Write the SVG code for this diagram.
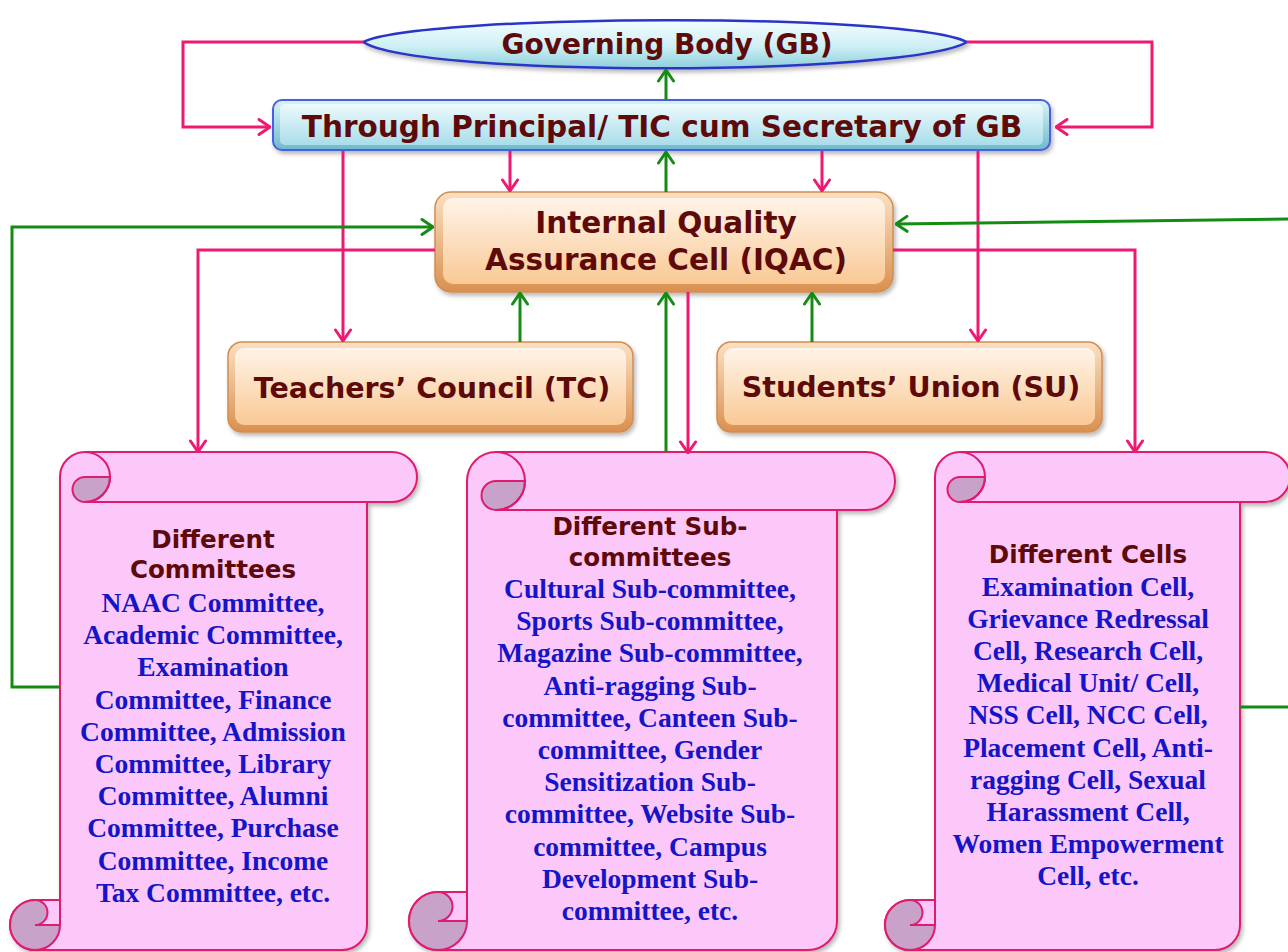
<svg xmlns="http://www.w3.org/2000/svg" width="1288" height="952" viewBox="0 0 1288 952">
<defs>
<style>
.t{font-family:"DejaVu Sans","Liberation Sans",sans-serif;font-weight:bold;fill:#5e0a0a;text-anchor:middle}
.st{font-family:"DejaVu Sans","Liberation Sans",sans-serif;font-weight:bold;fill:#5e0a0a;text-anchor:middle;font-size:24.6px}
.b{font-family:"Liberation Serif","DejaVu Serif",serif;font-weight:bold;fill:#1414c8;font-size:27.5px;text-anchor:middle}
.scroll{fill:#fcc8fa;stroke:#e01a6e;stroke-width:2}
.curl{fill:#c9a2c9;stroke:#e01a6e;stroke-width:2}
.ln{fill:none;stroke:#e01a6e;stroke-width:2}
.pk{fill:none;stroke:#ef1872;stroke-width:3}
.gr{fill:none;stroke:#148c14;stroke-width:3}
.po{fill:url(#gPeachEdge);stroke:#d18d52;stroke-width:1.5}
.pi{fill:url(#gPeach)}
</style>
<linearGradient id="gGB" x1="0" y1="0" x2="0" y2="1"><stop offset="0" stop-color="#f4fdff"/><stop offset="0.55" stop-color="#cdeff5"/><stop offset="1" stop-color="#8dcfdb"/></linearGradient>
<linearGradient id="gThrEdge" x1="0" y1="0" x2="0" y2="1"><stop offset="0" stop-color="#d9f4fa"/><stop offset="1" stop-color="#6fb9cc"/></linearGradient>
<linearGradient id="gThr" x1="0" y1="0" x2="0" y2="1"><stop offset="0" stop-color="#ecfafd"/><stop offset="1" stop-color="#a9dde9"/></linearGradient>
<linearGradient id="gPeachEdge" x1="0" y1="0" x2="0" y2="1"><stop offset="0" stop-color="#fbe0c2"/><stop offset="1" stop-color="#d99050"/></linearGradient>
<linearGradient id="gPeach" x1="0" y1="0" x2="0" y2="1"><stop offset="0" stop-color="#fff4e8"/><stop offset="1" stop-color="#f9c995"/></linearGradient>
<filter id="sh" x="-5%" y="-5%" width="115%" height="125%"><feDropShadow dx="2" dy="3" stdDeviation="2" flood-color="#000" flood-opacity="0.28"/></filter>
<marker id="ap" viewBox="0 0 14 18" refX="13" refY="9" markerWidth="14" markerHeight="18" markerUnits="userSpaceOnUse" orient="auto"><path d="M2 1.5 L13 9 L2 16.5" fill="none" stroke="#ef1872" stroke-width="3" stroke-linecap="round" stroke-linejoin="round"/></marker>
<marker id="ag" viewBox="0 0 14 18" refX="13" refY="9" markerWidth="14" markerHeight="18" markerUnits="userSpaceOnUse" orient="auto"><path d="M2 1.5 L13 9 L2 16.5" fill="none" stroke="#148c14" stroke-width="3" stroke-linecap="round" stroke-linejoin="round"/></marker>
</defs>
<rect width="1288" height="952" fill="#ffffff"/>

<g id="gb">
<path d="M363 42 C420 14 910 12 967 42 C910 76 420 78 363 42 Z" fill="url(#gGB)" stroke="#2936c8" stroke-width="2.5" filter="url(#sh)"/>
<text class="t" x="667" y="54" font-size="28">Governing Body (GB)</text>
</g>

<g id="principal">
<rect x="273" y="100" width="777" height="50" rx="9" fill="url(#gThrEdge)" stroke="#4a5ee0" stroke-width="2" filter="url(#sh)"/>
<rect x="280" y="104" width="763" height="41" rx="5" fill="url(#gThr)"/>
<text class="t" x="662" y="137" font-size="29.5">Through Principal/ TIC cum Secretary of GB</text>
</g>

<g id="iqac">
<rect class="po" x="435" y="192" width="458" height="100" rx="16" filter="url(#sh)"/>
<rect class="pi" x="443" y="198" width="442" height="86" rx="10"/>
<text class="t" x="666" y="233" font-size="29.5">Internal Quality</text>
<text class="t" x="666" y="270" font-size="29.5">Assurance Cell (IQAC)</text>
</g>

<g id="tc">
<rect class="po" x="228" y="342" width="405" height="90" rx="14" filter="url(#sh)"/>
<rect class="pi" x="235" y="348" width="391" height="77" rx="9"/>
<text class="t" x="432" y="398" font-size="28.5">Teachers’ Council (TC)</text>
</g>

<g id="su">
<rect class="po" x="717" y="342" width="385" height="90" rx="14" filter="url(#sh)"/>
<rect class="pi" x="724" y="348" width="371" height="77" rx="9"/>
<text class="t" x="911" y="397" font-size="28.5">Students’ Union (SU)</text>
</g>

<g id="committees">
<path class="scroll" filter="url(#sh)" d="M35 950 A25 25 0 0 1 35 900 L60 900 L60 477 A25 25 0 0 1 85 452 L392 452 A25 25 0 0 1 392 502 L367 502 L367 925 A25 25 0 0 1 342 950 Z"/>
<path class="curl" d="M85 477 L110 477 A25 25 0 0 1 85 502 A12.5 12.5 0 0 1 85 477 Z"/>
<path class="ln" d="M85 452 A25 25 0 0 1 85 502 L367 502"/>
<path class="curl" d="M35 925 L60 925 A25 25 0 0 1 35 950 A25 25 0 0 1 35 900 A12.5 12.5 0 0 1 35 925 Z"/>
<path class="ln" d="M60 900 L60 925"/>
<text class="st" x="213" y="548">Different</text>
<text class="st" x="213" y="578">Committees</text>
<text class="b" x="213" y="612">NAAC Committee,</text>
<text class="b" x="213" y="644.2">Academic Committee,</text>
<text class="b" x="213" y="676.4">Examination</text>
<text class="b" x="213" y="708.6">Committee, Finance</text>
<text class="b" x="213" y="740.8">Committee, Admission</text>
<text class="b" x="213" y="773">Committee, Library</text>
<text class="b" x="213" y="805.2">Committee, Alumni</text>
<text class="b" x="213" y="837.4">Committee, Purchase</text>
<text class="b" x="213" y="869.6">Committee, Income</text>
<text class="b" x="213" y="901.8">Tax Committee, etc.</text>
</g>

<g id="subcommittees">
<path class="scroll" filter="url(#sh)" d="M438 950 A29 29 0 0 1 438 892 L467 892 L467 481 A29 29 0 0 1 496 452 L866 452 A29 29 0 0 1 866 510 L837 510 L837 921 A29 29 0 0 1 808 950 Z"/>
<path class="curl" d="M496 481 L525 481 A29 29 0 0 1 496 510 A14.5 14.5 0 0 1 496 481 Z"/>
<path class="ln" d="M496 452 A29 29 0 0 1 496 510 L837 510"/>
<path class="curl" d="M438 921 L467 921 A29 29 0 0 1 438 950 A29 29 0 0 1 438 892 A14.5 14.5 0 0 1 438 921 Z"/>
<path class="ln" d="M467 892 L467 921"/>
<text class="st" x="650" y="535">Different Sub-</text>
<text class="st" x="650" y="566">committees</text>
<text class="b" x="650" y="598">Cultural Sub-committee,</text>
<text class="b" x="650" y="630.2">Sports Sub-committee,</text>
<text class="b" x="650" y="662.4">Magazine Sub-committee,</text>
<text class="b" x="650" y="694.6">Anti-ragging Sub-</text>
<text class="b" x="650" y="726.8">committee, Canteen Sub-</text>
<text class="b" x="650" y="759">committee, Gender</text>
<text class="b" x="650" y="791.2">Sensitization Sub-</text>
<text class="b" x="650" y="823.4">committee, Website Sub-</text>
<text class="b" x="650" y="855.6">committee, Campus</text>
<text class="b" x="650" y="887.8">Development Sub-</text>
<text class="b" x="650" y="920">committee, etc.</text>
</g>

<g id="cells">
<path class="scroll" filter="url(#sh)" d="M910 950 A25 25 0 0 1 910 900 L935 900 L935 477 A25 25 0 0 1 960 452 L1265 452 A25 25 0 0 1 1265 502 L1240 502 L1240 925 A25 25 0 0 1 1215 950 Z"/>
<path class="curl" d="M960 477 L985 477 A25 25 0 0 1 960 502 A12.5 12.5 0 0 1 960 477 Z"/>
<path class="ln" d="M960 452 A25 25 0 0 1 960 502 L1240 502"/>
<path class="curl" d="M910 925 L935 925 A25 25 0 0 1 910 950 A25 25 0 0 1 910 900 A12.5 12.5 0 0 1 910 925 Z"/>
<path class="ln" d="M935 900 L935 925"/>
<text class="st" x="1088" y="563">Different Cells</text>
<text class="b" x="1088" y="596">Examination Cell,</text>
<text class="b" x="1088" y="628.1">Grievance Redressal</text>
<text class="b" x="1088" y="660.2">Cell, Research Cell,</text>
<text class="b" x="1088" y="692.3">Medical Unit/ Cell,</text>
<text class="b" x="1088" y="724.4">NSS Cell, NCC Cell,</text>
<text class="b" x="1088" y="756.5">Placement Cell, Anti-</text>
<text class="b" x="1088" y="788.6">ragging Cell, Sexual</text>
<text class="b" x="1088" y="820.7">Harassment Cell,</text>
<text class="b" x="1088" y="852.8">Women Empowerment</text>
<text class="b" x="1088" y="884.9">Cell, etc.</text>
</g>

<g id="connectors">
<path class="pk" d="M363 42 L183 42 L183 127 L270 127" marker-end="url(#ap)"/>
<path class="pk" d="M967 42 L1152 42 L1152 127 L1056 127" marker-end="url(#ap)"/>
<path class="gr" d="M666 100 L666 70" marker-end="url(#ag)"/>
<path class="gr" d="M666 192 L666 152" marker-end="url(#ag)"/>
<path class="pk" d="M510 151 L510 191" marker-end="url(#ap)"/>
<path class="pk" d="M822 151 L822 191" marker-end="url(#ap)"/>
<path class="pk" d="M343 151 L343 341" marker-end="url(#ap)"/>
<path class="pk" d="M978 151 L978 341" marker-end="url(#ap)"/>
<path class="gr" d="M60 687 L12 687 L12 227 L433 227" marker-end="url(#ag)"/>
<path class="gr" d="M1240 707 L1292 707"/>
<path class="gr" d="M1292 219 L896 224" marker-end="url(#ag)"/>
<path class="pk" d="M435 250 L198 250 L198 452" marker-end="url(#ap)"/>
<path class="pk" d="M893 250 L1135 250 L1135 452" marker-end="url(#ap)"/>
<path class="gr" d="M520 342 L520 293" marker-end="url(#ag)"/>
<path class="gr" d="M812 342 L812 293" marker-end="url(#ag)"/>
<path class="gr" d="M666 452 L666 293" marker-end="url(#ag)"/>
<path class="pk" d="M688 292 L688 453" marker-end="url(#ap)"/>
</g>
</svg>
